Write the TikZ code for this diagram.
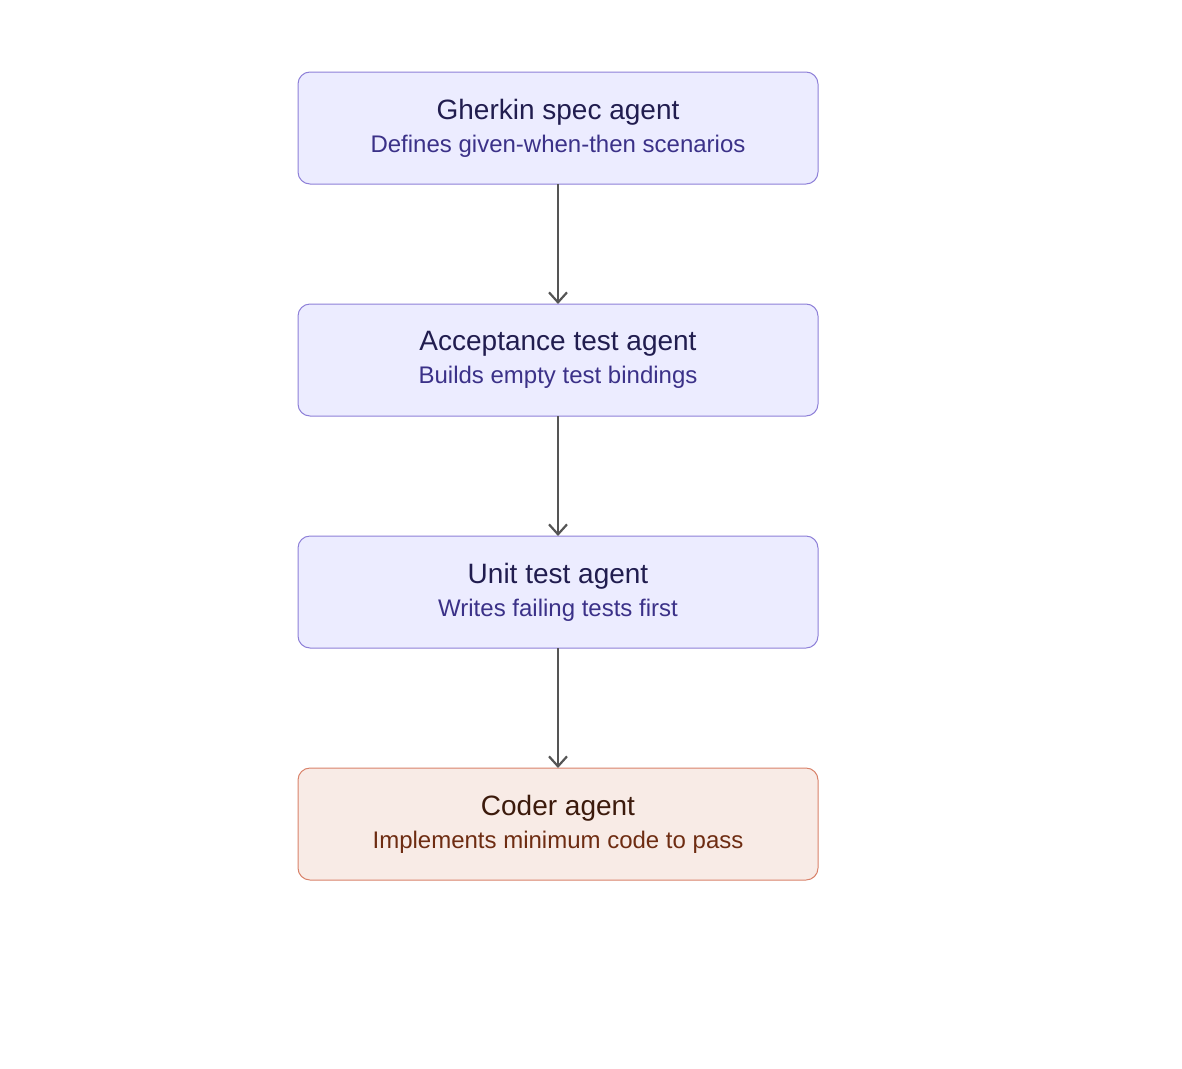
\documentclass[tikz,border=0pt]{standalone}
\usepackage{fontspec}
\setmainfont{Liberation Sans}
\usetikzlibrary{arrows.meta,positioning}

\definecolor{agentfill}{HTML}{ECECFF}
\definecolor{agentline}{HTML}{8E80D8}
\definecolor{agenttitle}{HTML}{211D4F}
\definecolor{agentsub}{HTML}{3B3188}
\definecolor{coderfill}{HTML}{F8EBE6}
\definecolor{coderline}{HTML}{D9826A}
\definecolor{codertitle}{HTML}{3C1A0C}
\definecolor{codersub}{HTML}{6E2C12}
\definecolor{flowline}{HTML}{555555}

\newcommand{\agenttext}[4]{{\color{#1}\fontsize{28}{34}\selectfont #2}\\[9pt]{\color{#3}\fontsize{24}{34}\selectfont #4}}

\begin{document}
\begin{tikzpicture}[
  agentbox/.style={draw=agentline, fill=agentfill, rounded corners=12pt, align=center,
                   minimum width=520pt, minimum height=112pt, line width=1pt,
                   inner sep=0pt, outer sep=0pt},
  coderbox/.style={agentbox, draw=coderline, fill=coderfill},
  arr/.style={-{Straight Barb[length=10pt, width=18pt, line width=2.2pt]}, line width=2.2pt, draw=flowline}
]
\useasboundingbox (0,0) rectangle (1182pt,-1068pt);
\node[agentbox] (gherkin) at (558pt,-128pt)
  {\agenttext{agenttitle}{Gherkin spec agent}{agentsub}{Defines given-when-then scenarios}};
\node[agentbox, below=120pt of gherkin] (acceptance)
  {\agenttext{agenttitle}{Acceptance test agent}{agentsub}{Builds empty test bindings}};
\node[agentbox, below=120pt of acceptance] (unit)
  {\agenttext{agenttitle}{Unit test agent}{agentsub}{Writes failing tests first}};
\node[coderbox, below=120pt of unit] (coder)
  {\agenttext{codertitle}{Coder agent}{codersub}{Implements minimum code to pass}};

\draw[arr] (gherkin) -- (acceptance);
\draw[arr] (acceptance) -- (unit);
\draw[arr] (unit) -- (coder);
\end{tikzpicture}
\end{document}
